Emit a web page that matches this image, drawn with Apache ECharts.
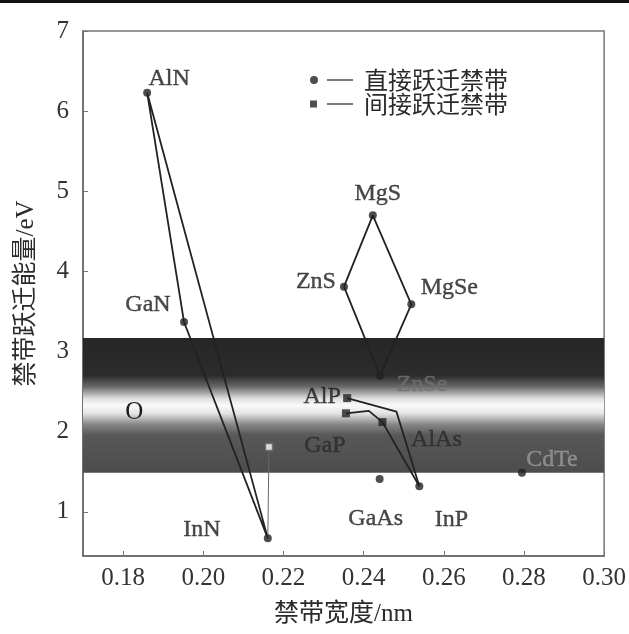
<!DOCTYPE html>
<html>
<head>
<meta charset="utf-8">
<script src="https://cdn.jsdelivr.net/npm/echarts@6/dist/echarts.min.js"></script>
<style>
html, body { margin: 0; padding: 0; background: #fff; }
#chart { width: 629px; height: 634px; }
</style>
</head>
<body>
<div id="chart"></div>
<script>
// 直接跃迁禁带材料
const directNames = ['AlN', 'GaN', 'InN', 'MgS', 'ZnS', 'MgSe', 'ZnSe', 'GaAs', 'InP', 'CdTe'];
const directX = [0.1860, 0.1952, 0.2161, 0.2423, 0.2351, 0.2519, 0.2441, 0.2440, 0.2539, 0.2795];
const directY = [6.23, 3.37, 0.67, 4.70, 3.81, 3.59, 2.70, 1.41, 1.32, 1.49];

// 间接跃迁禁带材料
const indirectNames = ['AlP', 'GaP', 'AlAs'];
const indirectX = [0.2359, 0.2356, 0.2447];
const indirectY = [2.42, 2.23, 2.12];

// InN 上方的空心点
const openX = [0.2164];
const openY = [1.81];

// 合金连线的折点
const alpKink = [0.2482, 2.25];
const gapKink = [0.2413, 2.26];

// 可见光区范围 (eV)
const bandLow = 1.49;
const bandHigh = 3.17;

// "O" 标注位置
const oMark = [0.1828, 2.24];

// 刻度
const xTicks = [0.18, 0.20, 0.22, 0.24, 0.26, 0.28, 0.30];
const yTicks = [1, 2, 3, 4, 5, 6, 7];

// 标签偏移 (像素，相对数据点)
const labelOffset = {
    AlN: [22, -14], GaN: [-36, -17], InN: [-66, -9], MgS: [5, -22],
    ZnS: [-28, -5], MgSe: [38, -17], ZnSe: [42, 9], GaAs: [-4, 40],
    InP: [32, 33], CdTe: [30, -13], AlP: [-25, -1], GaP: [-21, 32],
    AlAs: [54, 18]
};
const labelColor = { ZnSe: '#707070', CdTe: '#9a9a9a', GaP: '#2a2a2a', AlAs: '#2a2a2a' };

const serif = 'Liberation Serif, Noto Sans CJK SC';

function pt(name) {
    let i = directNames.indexOf(name);
    if (i >= 0) return [directX[i], directY[i]];
    i = indirectNames.indexOf(name);
    return [indirectX[i], indirectY[i]];
}

function pointData(names, xs, ys) {
    return names.map((n, i) => {
        const c = labelColor[n] || '#1c1c1c';
        return {
            name: n,
            value: [xs[i], ys[i]],
            label: {
                offset: labelOffset[n],
                color: c,
                textBorderColor: c,
                textBorderWidth: 0.4
            }
        };
    });
}

function lineSeries(points, extra) {
    return Object.assign({
        type: 'line',
        data: points,
        showSymbol: false,
        symbol: 'none',
        silent: true,
        lineStyle: { color: '#222', width: 1.8 },
        z: 3
    }, extra || {});
}

const chart = echarts.init(document.getElementById('chart'));

const labelStyle = {
    show: true,
    position: 'inside',
    formatter: '{b}',
    fontFamily: serif,
    fontSize: 24
};

const option = {
    animation: false,
    backgroundColor: '#fff',
    graphic: [{
        type: 'rect',
        shape: { x: 0, y: 0, width: 629, height: 3 },
        style: { fill: '#111' }
    }],
    grid: {
        left: 83, right: 19, top: 31, bottom: 78,
        show: true,
        borderColor: '#777',
        borderWidth: 1.5
    },
    legend: {
        orient: 'vertical',
        left: 305,
        top: 63,
        itemGap: 0,
        itemWidth: 43,
        itemHeight: 8,
        selectedMode: false,
        textStyle: {
            fontFamily: 'Noto Sans CJK SC',
            fontSize: 24,
            color: '#2a2a2a',
            padding: [0, 0, 0, 6]
        },
        data: [
            { name: '直接跃迁禁带', icon: 'path://M0,4A4,4,0,1,1,8,4A4,4,0,1,1,0,4ZM17,3.3H43V4.7H17Z' },
            { name: '间接跃迁禁带', icon: 'path://M0,0.5H7V7.5H0ZM17,3.3H43V4.7H17Z' }
        ]
    },
    xAxis: {
        type: 'value',
        min: 0.17,
        max: 0.30,
        name: '禁带宽度/nm',
        nameLocation: 'middle',
        nameGap: 46,
        nameTextStyle: { fontFamily: serif, fontSize: 25, color: '#2a2a2a' },
        axisLine: { lineStyle: { color: '#666', width: 1.5 } },
        axisTick: { inside: true, length: 5, customValues: xTicks, lineStyle: { color: '#777' } },
        axisLabel: {
            customValues: xTicks,
            formatter: v => v.toFixed(2),
            fontFamily: serif, fontSize: 25, color: '#333', margin: 10
        },
        splitLine: { show: false }
    },
    yAxis: {
        type: 'value',
        min: 0.45,
        max: 7,
        name: '禁带跃迁能量/eV',
        nameLocation: 'middle',
        nameGap: 44,
        nameTextStyle: { fontFamily: serif, fontSize: 25, color: '#2a2a2a' },
        axisLine: { lineStyle: { color: '#666', width: 1.5 } },
        axisTick: { inside: true, length: 5, customValues: yTicks, lineStyle: { color: '#777' } },
        axisLabel: {
            customValues: yTicks,
            fontFamily: serif, fontSize: 25, color: '#333', margin: 14
        },
        splitLine: { show: false }
    },
    series: [
        // 可见光区灰度带
        lineSeries([], {
            z: 1,
            markArea: {
                silent: true,
                itemStyle: {
                    color: {
                        type: 'linear', x: 0, y: 0, x2: 0, y2: 1,
                        colorStops: [
                            { offset: 0, color: '#262626' },
                            { offset: 0.28, color: '#2c2c2c' },
                            { offset: 0.36, color: '#676767' },
                            { offset: 0.45, color: '#dedede' },
                            { offset: 0.5, color: '#fafafa' },
                            { offset: 0.56, color: '#e4e4e4' },
                            { offset: 0.64, color: '#888888' },
                            { offset: 0.72, color: '#585858' },
                            { offset: 1, color: '#4c4c4c' }
                        ]
                    }
                },
                data: [[{ yAxis: bandLow }, { yAxis: bandHigh }]]
            },
            markPoint: {
                symbolSize: 0,
                label: {
                    show: true, formatter: 'O', position: 'inside',
                    fontFamily: serif, fontSize: 25, color: '#1c1c1c'
                },
                data: [{ coord: oMark }]
            }
        }),
        // 连线
        lineSeries(['AlN', 'GaN', 'InN', 'AlN'].map(pt)),
        lineSeries(['ZnS', 'MgS', 'MgSe', 'ZnSe', 'ZnS'].map(pt)),
        lineSeries([pt('AlP'), alpKink, pt('InP')]),
        lineSeries([pt('GaP'), gapKink, pt('AlAs'), pt('InP')]),
        lineSeries([pt('InN'), [openX[0], openY[0]]], { lineStyle: { color: '#666', width: 1 } }),
        {
            name: '直接跃迁禁带',
            type: 'scatter',
            symbol: 'circle',
            symbolSize: 8,
            itemStyle: { color: '#222' },
            label: labelStyle,
            z: 4,
            data: pointData(directNames, directX, directY)
        },
        {
            name: '间接跃迁禁带',
            type: 'scatter',
            symbol: 'rect',
            symbolSize: 8,
            itemStyle: { color: '#222' },
            label: labelStyle,
            z: 4,
            data: pointData(indirectNames, indirectX, indirectY)
        },
        {
            type: 'scatter',
            symbol: 'rect',
            symbolSize: 7,
            itemStyle: { color: '#fff', borderColor: '#666', borderWidth: 1.5 },
            z: 4,
            data: openX.map((x, i) => [x, openY[i]])
        }
    ]
};

chart.setOption(option);
</script>
</body>
</html>
